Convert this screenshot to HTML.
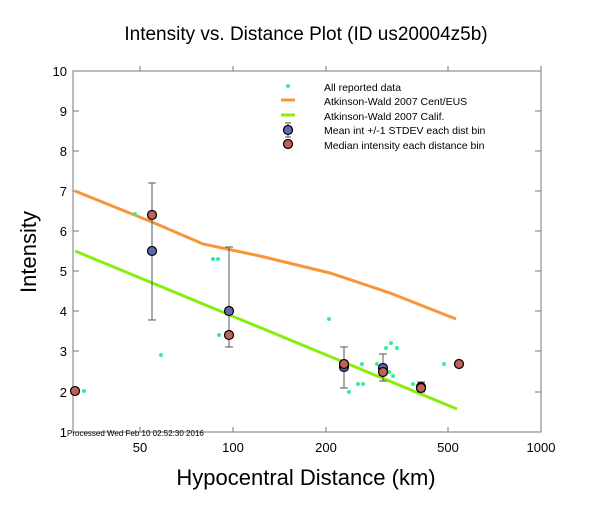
<!DOCTYPE html><html><head><style>body{margin:0;background:#fff}</style></head><body>
<svg width="612" height="504" xmlns="http://www.w3.org/2000/svg" font-family="Liberation Sans, sans-serif">
<rect width="612" height="504" fill="#fff"/>
<text x="306" y="40" font-size="19" text-anchor="middle">Intensity vs. Distance Plot (ID us20004z5b)</text>
<rect x="73" y="71" width="468" height="361" fill="none" stroke="#777" stroke-width="1"/>
<g stroke="#777">
<line x1="73" y1="71" x2="79" y2="71"/><line x1="73" y1="111" x2="79" y2="111"/><line x1="73" y1="151" x2="79" y2="151"/><line x1="73" y1="191" x2="79" y2="191"/><line x1="73" y1="231" x2="79" y2="231"/><line x1="73" y1="271" x2="79" y2="271"/><line x1="73" y1="311" x2="79" y2="311"/><line x1="73" y1="351" x2="79" y2="351"/><line x1="73" y1="392" x2="79" y2="392"/>
<line x1="535" y1="111" x2="541" y2="111"/><line x1="535" y1="151" x2="541" y2="151"/><line x1="535" y1="191" x2="541" y2="191"/><line x1="535" y1="231" x2="541" y2="231"/><line x1="535" y1="271" x2="541" y2="271"/><line x1="535" y1="311" x2="541" y2="311"/><line x1="535" y1="351" x2="541" y2="351"/><line x1="535" y1="392" x2="541" y2="392"/>
<line x1="140" y1="432" x2="140" y2="427"/><line x1="233" y1="432" x2="233" y2="427"/><line x1="326" y1="432" x2="326" y2="427"/><line x1="448" y1="432" x2="448" y2="427"/><line x1="541" y1="432" x2="541" y2="427"/>
<line x1="140" y1="71" x2="140" y2="66"/><line x1="233" y1="71" x2="233" y2="66"/><line x1="326" y1="71" x2="326" y2="66"/><line x1="448" y1="71" x2="448" y2="66"/><line x1="541" y1="71" x2="541" y2="66"/>
</g>
<g font-size="13" text-anchor="end">
<text x="67" y="76">10</text><text x="67" y="116">9</text><text x="67" y="156">8</text><text x="67" y="196">7</text><text x="67" y="236">6</text><text x="67" y="276">5</text><text x="67" y="316">4</text><text x="67" y="356">3</text><text x="67" y="397">2</text><text x="67" y="437">1</text>
</g>
<g font-size="13" text-anchor="middle">
<text x="140" y="452">50</text><text x="233" y="452">100</text><text x="326" y="452">200</text><text x="448" y="452">500</text><text x="541" y="452">1000</text>
</g>
<text x="306" y="485" font-size="22" text-anchor="middle">Hypocentral Distance (km)</text>
<text transform="translate(36,252) rotate(-90)" font-size="22" text-anchor="middle">Intensity</text>
<text x="67" y="436" font-size="8">Processed Wed Feb 10 02:52:30 2016</text>
<polyline points="75,191 152,222 203,244 260,256 330,273 390,293 456,319" fill="none" stroke="#f7953a" stroke-width="3"/>
<line x1="75" y1="251" x2="457" y2="409" stroke="#88ee11" stroke-width="3"/>
<g fill="#33ee99">
<circle cx="84" cy="391" r="2"/><circle cx="135" cy="214" r="2"/><circle cx="161" cy="355" r="2"/><circle cx="213" cy="259" r="2"/><circle cx="218" cy="259" r="2"/><circle cx="219" cy="335" r="2"/><circle cx="329" cy="319" r="2"/><circle cx="349" cy="392" r="2"/><circle cx="358" cy="384" r="2"/><circle cx="363" cy="384" r="2"/><circle cx="362" cy="364" r="2"/><circle cx="377" cy="364" r="2"/><circle cx="386" cy="348" r="2"/><circle cx="391" cy="343" r="2"/><circle cx="397" cy="348" r="2"/><circle cx="389" cy="372" r="2"/><circle cx="393" cy="376" r="2"/><circle cx="413" cy="384" r="2"/><circle cx="444" cy="364" r="2"/>
</g>
<g stroke="#555" stroke-width="1">
<line x1="152" y1="183" x2="152" y2="320"/><line x1="148" y1="183" x2="156" y2="183"/><line x1="148" y1="320" x2="156" y2="320"/>
<line x1="229" y1="247" x2="229" y2="347"/><line x1="225" y1="247" x2="233" y2="247"/><line x1="225" y1="347" x2="233" y2="347"/>
<line x1="344" y1="347" x2="344" y2="388"/><line x1="340" y1="347" x2="348" y2="347"/><line x1="340" y1="388" x2="348" y2="388"/>
<line x1="383" y1="354" x2="383" y2="381"/><line x1="379" y1="354" x2="387" y2="354"/><line x1="379" y1="381" x2="387" y2="381"/>
<line x1="421" y1="382" x2="421" y2="392"/><line x1="417" y1="382" x2="425" y2="382"/><line x1="417" y1="392" x2="425" y2="392"/>
</g>
<g stroke="#000" stroke-width="1.2">
<g fill="#6068b0"><circle cx="152" cy="251" r="4.5"/><circle cx="229" cy="311" r="4.5"/><circle cx="344" cy="367" r="4.5"/><circle cx="383" cy="368" r="4.5"/><circle cx="421" cy="387" r="4.5"/></g>
<g fill="#c06058"><circle cx="75" cy="391" r="4.5"/><circle cx="152" cy="215" r="4.5"/><circle cx="229" cy="335" r="4.5"/><circle cx="344" cy="364" r="4.5"/><circle cx="383" cy="372" r="4.5"/><circle cx="421" cy="388" r="4.5"/><circle cx="459" cy="364" r="4.5"/></g>
</g>
<circle cx="288" cy="86" r="2" fill="#33ee99"/>
<line x1="281" y1="100" x2="295" y2="100" stroke="#f7953a" stroke-width="3"/>
<line x1="281" y1="115" x2="295" y2="115" stroke="#88ee11" stroke-width="3"/>
<g stroke="#555"><line x1="288" y1="123" x2="288" y2="137"/><line x1="285" y1="123" x2="291" y2="123"/><line x1="285" y1="137" x2="291" y2="137"/></g>
<circle cx="288" cy="130" r="4.5" fill="#6068b0" stroke="#000" stroke-width="1.2"/>
<circle cx="288" cy="144" r="4.5" fill="#c06058" stroke="#000" stroke-width="1.2"/>
<g font-size="10.5">
<text x="324" y="91">All reported data</text>
<text x="324" y="105">Atkinson-Wald 2007 Cent/EUS</text>
<text x="324" y="120">Atkinson-Wald 2007 Calif.</text>
<text x="324" y="134">Mean int +/-1 STDEV each dist bin</text>
<text x="324" y="149">Median intensity each distance bin</text>
</g>
</svg>
</body></html>
